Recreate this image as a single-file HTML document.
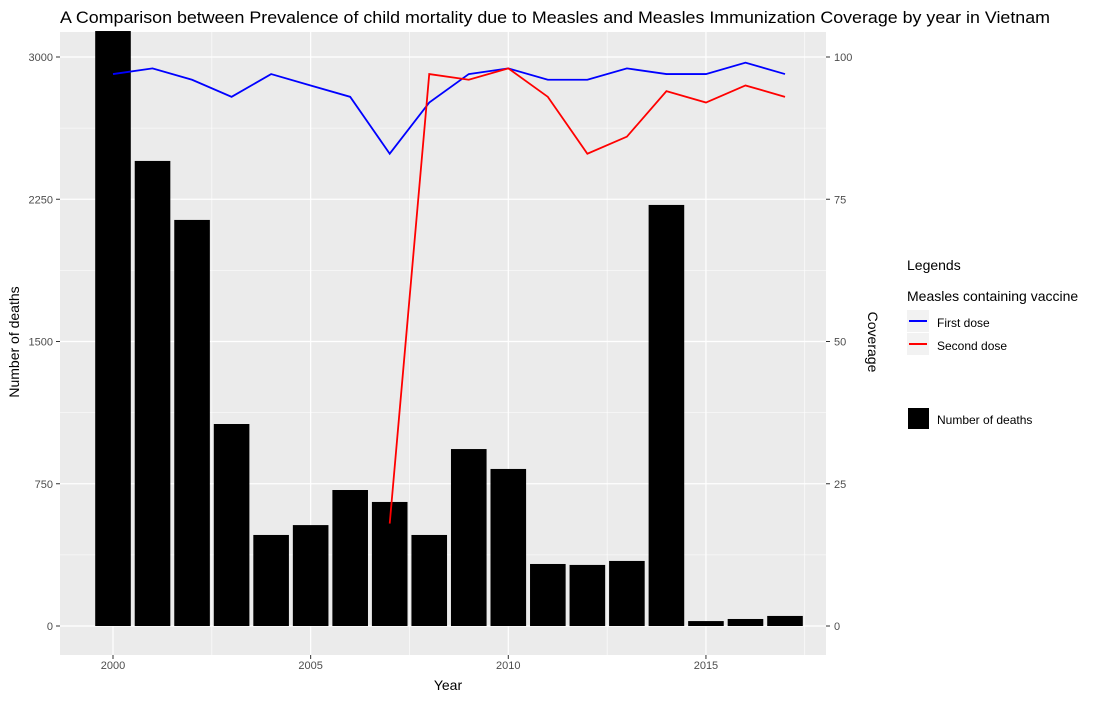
<!DOCTYPE html>
<html><head><meta charset="utf-8"><style>
body{margin:0;background:#fff;font-family:"Liberation Sans",sans-serif;}
svg text{font-family:"Liberation Sans",sans-serif;}
</style></head><body>
<svg id="chart" width="1100" height="700" xmlns="http://www.w3.org/2000/svg">
<text x="60" y="23" font-size="17" textLength="990" lengthAdjust="spacingAndGlyphs" fill="#000">A Comparison between Prevalence of child mortality due to Measles and Measles Immunization Coverage by year in Vietnam</text>
<rect x="60" y="32" width="766" height="623" fill="#ebebeb"/>
<g id="grid"></g><g id="bars"></g><g id="lines"></g><g id="axes"></g>
<text x="448" y="690" font-size="14" text-anchor="middle">Year</text>
<text transform="translate(19,342) rotate(-90)" font-size="14" text-anchor="middle">Number of deaths</text>
<text transform="translate(868,342) rotate(90)" font-size="14" text-anchor="middle">Coverage</text>
<g>
<text x="907" y="270" font-size="14">Legends</text>
<text x="907" y="301" font-size="14">Measles containing vaccine</text>
<rect x="907" y="310" width="22" height="22" fill="#f2f2f2"/>
<line x1="909" y1="321" x2="927" y2="321" stroke="#0000ff" stroke-width="2"/>
<text x="937" y="327" font-size="12">First dose</text>
<rect x="907" y="333" width="22" height="22" fill="#f2f2f2"/>
<line x1="909" y1="344" x2="927" y2="344" stroke="#ff0000" stroke-width="2"/>
<text x="937" y="350" font-size="12">Second dose</text>
<rect x="908" y="408" width="21" height="21" fill="#000"/>
<text x="937" y="424" font-size="12">Number of deaths</text>
</g>
</svg>
<script>
const years=[2000,2001,2002,2003,2004,2005,2006,2007,2008,2009,2010,2011,2012,2013,2014,2015,2016,2017];
const deaths=[3137,2452,2141,1065,480,532,717,654,480,933,828,327,322,343,2220,26,37,53];
const firstDose=[97,98,96,93,97,95,93,83,92,97,98,96,96,98,97,97,99,97];
const secondYears=[2007,2008,2009,2010,2011,2012,2013,2014,2015,2016,2017];
const secondDose=[18,97,96,98,93,83,86,94,92,95,93];
const yTicks=[0,750,1500,2250,3000];
const y2Ticks=[0,25,50,75,100];
const xTicks=[2000,2005,2010,2015];
const NS="http://www.w3.org/2000/svg";
const X=y=>113+(y-2000)*39.53;
const Y=v=>626-v*(569/3000);
const Y2=v=>626-v*5.69;
function mk(tag,attrs,parent){const e=document.createElementNS(NS,tag);for(const k in attrs)e.setAttribute(k,attrs[k]);document.getElementById(parent).appendChild(e);return e;}
for(let v=375;v<3300;v+=750){const l=mk('line',{x1:60,x2:826,y1:Y(v),y2:Y(v),stroke:'#fff','stroke-width':0.6},'grid');

}
for(let v=1997.5;v<2020;v+=5){if(X(v)<60||X(v)>826)continue;const l=mk('line',{x1:X(v),x2:X(v),y1:32,y2:655,stroke:'#fff','stroke-width':0.6},'grid');

}
yTicks.forEach(v=>{const l=mk('line',{x1:60,x2:826,y1:Y(v),y2:Y(v),stroke:'#fff','stroke-width':1.2},'grid');


const t=mk('text',{x:53,y:Y(v)+4,'font-size':11,fill:'#4d4d4d','text-anchor':'end'},'axes');t.textContent=v;


mk('line',{x1:56,x2:60,y1:Y(v),y2:Y(v),stroke:'#333'},'axes');});
y2Ticks.forEach(v=>{const t=mk('text',{x:834,y:Y2(v)+4,'font-size':11,fill:'#4d4d4d'},'axes');t.textContent=v;


mk('line',{x1:826,x2:830,y1:Y2(v),y2:Y2(v),stroke:'#333'},'axes');});
xTicks.forEach(v=>{const l=mk('line',{x1:X(v),x2:X(v),y1:32,y2:655,stroke:'#fff','stroke-width':1.2},'grid');


const t=mk('text',{x:X(v),y:669,'font-size':11,fill:'#4d4d4d','text-anchor':'middle'},'axes');t.textContent=v;


mk('line',{x1:X(v),x2:X(v),y1:655,y2:659,stroke:'#333'},'axes');});
years.forEach((yr,i)=>{const b=mk('rect',{x:X(yr)-17.8,width:35.6,y:Y(deaths[i]),height:Y(0)-Y(deaths[i]),fill:'#000'},'bars');

});
const p1=mk('polyline',{points:years.map((yr,i)=>X(yr)+','+Y2(firstDose[i])).join(' '),fill:'none',stroke:'#0000ff','stroke-width':1.8},'lines');


const p2=mk('polyline',{points:secondYears.map((yr,i)=>X(yr)+','+Y2(secondDose[i])).join(' '),fill:'none',stroke:'#ff0000','stroke-width':1.8},'lines');


</script>
</body></html>
